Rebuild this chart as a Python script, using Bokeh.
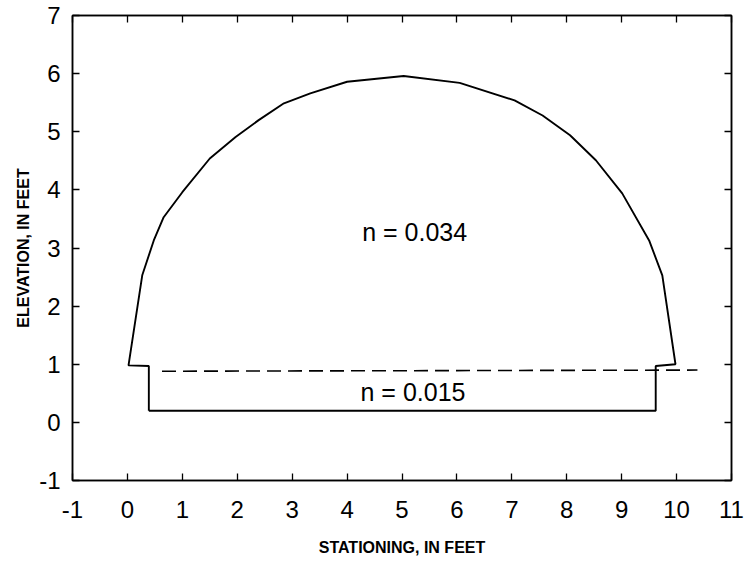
from bokeh.plotting import figure
from bokeh.models import Range1d, LinearAxis, FixedTicker, CustomLabelingPolicy
from bokeh.embed import file_html
from bokeh.resources import INLINE
from bokeh.core.properties import value

# Channel cross-section outline (station, elevation), feet
station = [0.39, 0.39, 0.02, 0.27, 0.48, 0.66, 1.00, 1.50, 1.97, 2.39, 2.85, 3.33,
           4.00, 5.03, 6.05, 7.05, 7.56, 8.06, 8.53, 9.01, 9.50, 9.74, 9.98, 9.62,
           9.62, 0.39]
elevation = [0.20, 0.97, 0.98, 2.53, 3.13, 3.53, 3.96, 4.54, 4.91, 5.20, 5.49, 5.66,
             5.86, 5.96, 5.84, 5.54, 5.28, 4.94, 4.51, 3.94, 3.13, 2.53, 1.00, 0.97,
             0.20, 0.20]

# Dashed subdivision line
dash_station = [0.63, 10.38]
dash_elev = [0.88, 0.90]

# Roughness labels
label_text = ["n = 0.034", "n = 0.015"]
label_x = [5.23, 5.2]
label_y = [3.27, 0.52]

x_ticks = list(range(-1, 12))
y_ticks = list(range(-1, 8))
tick_text = {t: str(t) for t in range(-1, 12)}

FONT = "Liberation Sans"

p = figure(width=744, height=561, output_backend="svg", toolbar_location=None,
           x_range=Range1d(-1, 11), y_range=Range1d(-1, 7),
           min_border_left=72, min_border_right=13, min_border_top=15,
           min_border_bottom=81)

p.grid.visible = False
p.outline_line_color = "black"
p.outline_line_width = 1.5
p.background_fill_color = "white"
p.border_fill_color = "white"

p.line(station, elevation, line_color="black", line_width=1.9)
p.line(dash_station, dash_elev, line_color="black", line_width=1.6, line_dash="14 7")
p.text(x=label_x, y=label_y, text=label_text, text_align="center",
       text_baseline="middle", text_font=value(FONT), text_font_size="25px",
       text_color="black")

hide_all = CustomLabelingPolicy(code="""
try {
  for (let i = 0; i < indices.size; i++) { indices.unset(i) }
} catch (e) {}
return indices
""")

def style(ax, ticks, show_labels):
    ax.ticker = FixedTicker(ticks=ticks)
    ax.major_tick_in = 7
    ax.major_tick_out = 0
    ax.minor_tick_line_color = None
    ax.major_tick_line_color = "black"
    ax.major_tick_line_width = 1.3
    ax.axis_line_color = "black"
    ax.axis_line_width = 1.5
    if show_labels:
        ax.major_label_text_font = FONT
        ax.major_label_text_font_size = "24px"
        ax.major_label_text_color = "black"
        ax.major_label_overrides = tick_text
        ax.axis_label_text_font = FONT
        ax.axis_label_text_font_size = "16px"
        ax.axis_label_text_font_style = "bold"
        ax.axis_label_text_color = "black"
    else:
        ax.major_label_text_font_size = "1px"
        ax.major_label_standoff = 0
        ax.major_label_policy = hide_all

xa = p.xaxis[0]
ya = p.yaxis[0]
style(xa, x_ticks, True)
style(ya, y_ticks, True)
xa.axis_label = "STATIONING, IN FEET"
ya.axis_label = "ELEVATION, IN FEET"
xa.major_label_standoff = 20
xa.axis_label_standoff = 18
ya.major_label_standoff = 12
ya.axis_label_standoff = 4

top = LinearAxis()
right = LinearAxis()
style(top, x_ticks, False)
style(right, y_ticks, False)
p.add_layout(top, "above")
p.add_layout(right, "right")

open("out.html", "w").write(file_html(p, INLINE))
